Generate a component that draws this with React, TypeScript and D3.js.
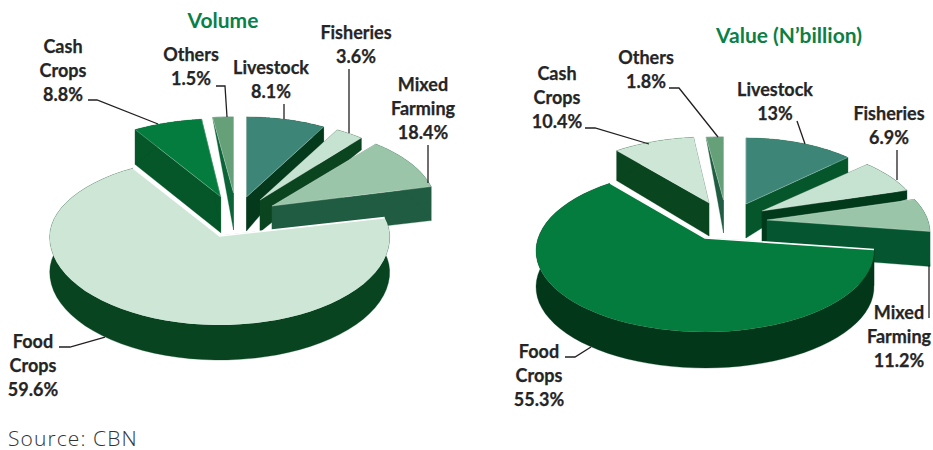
import * as d3 from 'd3';

const sliceNames = ['Livestock', 'Fisheries', 'Mixed Farming', 'Food Crops', 'Cash Crops', 'Others'];

// printed percentages
const volumeLabels = [8.1, 3.6, 18.4, 59.6, 8.8, 1.5];
const valueLabels = [13, 6.9, 11.2, 55.3, 10.4, 1.8];

// shares as actually drawn in the picture: the Mixed Farming and Food Crops wedges
// do not follow their printed numbers, so the arcs are read off separately
const volumeArcs = [8.0, 2.9, 10.2, 70.4, 6.7, 1.8];
const valueArcs = [11.4, 6.6, 6.7, 65.8, 8.0, 1.5];

const volumeTops = ['#3d8576', '#c6e2d0', '#9bc5a8', '#cde6d6', '#037c3e', '#66a079'];
const volumeSides = ['#04391c', '#0a4520', '#1f5c41', '#08441f', '#055629', '#0a6437'];
const valueTops = ['#3d8576', '#c6e2d0', '#9bc5a8', '#037c3e', '#cde6d6', '#66a079'];
const valueSides = ['#05562b', '#003a1b', '#055630', '#03371a', '#09451f', '#1f5c41'];

interface Wedge {
    apex: [number, number];
    rx: number;
    ryTop: number;
    ryBottom: number;
    centerDrop: number;
    apexDrop: number;
    startDrop: number;
    endDrop: number;
}

const volumeWedges: Wedge[] = [
    { apex: [246.5, 197], rx: 160, ryTop: 80, ryBottom: 80, centerDrop: 0, apexDrop: 34, startDrop: 0, endDrop: 15 },
    { apex: [260, 200], rx: 160, ryTop: 80, ryBottom: 80, centerDrop: 0, apexDrop: 32, startDrop: 12, endDrop: 12 },
    { apex: [272, 206], rx: 164, ryTop: 80, ryBottom: 80, centerDrop: 0, apexDrop: 33, startDrop: 34, endDrop: 34 },
    { apex: [219.7, 236], rx: 170, ryTop: 80, ryBottom: 88, centerDrop: 1, apexDrop: 35, startDrop: 35, endDrop: 35 },
    { apex: [220.7, 196.7], rx: 168, ryTop: 78, ryBottom: 78, centerDrop: 0, apexDrop: 36, startDrop: 35, endDrop: 0 },
    { apex: [233.5, 193], rx: 185, ryTop: 76, ryBottom: 76, centerDrop: 0, apexDrop: 37, startDrop: 0, endDrop: 0 },
];

const valueWedges: Wedge[] = [
    { apex: [746, 204], rx: 155, ryTop: 79, ryBottom: 79, centerDrop: 13, apexDrop: 34, startDrop: 0, endDrop: 17 },
    { apex: [762, 211], rx: 160, ryTop: 79, ryBottom: 79, centerDrop: 13, apexDrop: 32, startDrop: 9, endDrop: 9 },
    { apex: [767, 220], rx: 163, ryTop: 79, ryBottom: 79, centerDrop: 13, apexDrop: 34, startDrop: 35, endDrop: 35 },
    { apex: [705, 238], rx: 169, ryTop: 82, ryBottom: 81, centerDrop: 13, apexDrop: 36, startDrop: 36, endDrop: 36 },
    { apex: [709, 203], rx: 164, ryTop: 79, ryBottom: 79, centerDrop: 13, apexDrop: 33, startDrop: 30, endDrop: 0 },
    { apex: [723.5, 200], rx: 185, ryTop: 76, ryBottom: 76, centerDrop: 13, apexDrop: 33, startDrop: 0, endDrop: 0 },
];

// text block centre x and first baseline for each slice label
const volumeLabelAt = [[271, 74], [356, 39], [423, 91], [33, 348], [63, 53], [191, 61]];
const valueLabelAt = [[775, 96], [889, 120], [899, 319], [539, 358], [557, 80], [646, 64]];

const volumeLeaders = [
    [[284, 104], [284, 119]],
    [[349, 69], [349, 133]],
    [[428, 145], [428, 183]],
    [[59, 347], [70, 347], [105, 337]],
    [[88, 100], [97, 100], [158, 124]],
    [[216, 86], [225, 86], [227, 117]],
];
const valueLeaders = [
    [[797, 121], [805, 144]],
    [[897, 150], [897, 180]],
    [[929, 265], [929, 318]],
    [[565, 357], [575, 357], [591, 347]],
    [[585, 128], [595, 128], [649, 144]],
    [[669, 88], [679, 88], [718, 137]],
];

// back wedges first, the big Food Crops wedge last
const paintOrder = [5, 4, 0, 1, 2, 3];
const labelFont = 'Lato, "Open Sans", sans-serif';

const line = d3.line<number[]>();

function wedgePaths(w: Wedge, startAngle: number, endAngle: number) {
    const [ax, ay] = w.apex;
    const cy = ay + w.centerDrop;
    const dropAt = d3.scaleLinear().domain([startAngle, endAngle]).range([w.startDrop, w.endDrop]);
    const rim = (a: number, drop: number) => {
        const c = Math.cos(a);
        return [ax + w.rx * Math.sin(a), cy - (c > 0 ? w.ryTop : w.ryBottom) * c + drop];
    };
    const angles = d3.range(61).map((i) => startAngle + ((endAngle - startAngle) * i) / 60);
    const topRim = angles.map((a) => rim(a, 0));
    const bottomRim = angles.map((a) => rim(a, dropAt(a))).reverse();
    const apexTop = [ax, ay];
    const apexBottom = [ax, ay + w.apexDrop];
    return {
        top: line([apexTop, ...topRim]) + 'Z',
        edges: line([rim(endAngle, 0), apexTop, rim(startAngle, 0)])!,
        walls: [
            line([apexTop, rim(startAngle, 0), rim(startAngle, w.startDrop), apexBottom]) + 'Z',
            line([apexTop, rim(endAngle, 0), rim(endAngle, w.endDrop), apexBottom]) + 'Z',
            line([...topRim, ...bottomRim]) + 'Z',
        ],
    };
}

interface PieProps {
    title: string;
    titleX: number;
    titleY: number;
    labels: number[];
    arcs: number[];
    tops: string[];
    sides: string[];
    wedges: Wedge[];
    labelAt: number[][];
    leaders: number[][][];
}

function Pie3D(props: PieProps) {
    const { title, titleX, titleY, labels, arcs, tops, sides, wedges, labelAt, leaders } = props;
    const pie = d3.pie<number>().sort(null).value((d) => d);
    const slices = pie(arcs);

    return (
        <g>
            {paintOrder.map((i) => {
                const paths = wedgePaths(wedges[i], slices[i].startAngle, slices[i].endAngle);
                const isBig = i === 3;
                return (
                    <g key={i}>
                        {paths.walls.map((d, j) => (
                            <path key={j} d={d} fill={sides[i]} stroke={sides[i]} strokeWidth={0.3} />
                        ))}
                        <path d={paths.top} fill={tops[i]} />
                        <path
                            d={paths.edges}
                            fill="none"
                            stroke="#fff"
                            strokeOpacity={isBig ? 1 : 0.45}
                            strokeWidth={isBig ? 1.6 : 0.6}
                        />
                    </g>
                );
            })}
            {leaders.map((pts, i) => (
                <path key={i} d={line(pts)!} fill="none" stroke="#231f20" strokeWidth={1.3} />
            ))}
            {sliceNames.map((name, i) => {
                const rows = [...name.split(' '), `${labels[i]}%`];
                return (
                    <text
                        key={name}
                        textAnchor="middle"
                        fontFamily={labelFont}
                        fontWeight={700}
                        fontSize={18}
                        fill="#262526"
                        stroke="#262526"
                        strokeWidth={0.25}
                    >
                        {rows.map((row, j) => (
                            <tspan key={j} x={labelAt[i][0]} y={labelAt[i][1] + j * 24.2}>
                                {row}
                            </tspan>
                        ))}
                    </text>
                );
            })}
            <text
                x={titleX}
                y={titleY}
                textAnchor="middle"
                fontFamily={labelFont}
                fontWeight={700}
                fontSize={21}
                fill="#0a8047"
            >
                {title}
            </text>
        </g>
    );
}

export default function App() {
    return (
        <svg
            width={933}
            height={450}
            viewBox="0 0 933 450"
            style={{ position: 'absolute', left: 0, top: 0, background: '#fff' }}
        >
            <Pie3D
                title="Volume"
                titleX={223}
                titleY={28}
                labels={volumeLabels}
                arcs={volumeArcs}
                tops={volumeTops}
                sides={volumeSides}
                wedges={volumeWedges}
                labelAt={volumeLabelAt}
                leaders={volumeLeaders}
            />
            <Pie3D
                title="Value (N’billion)"
                titleX={789}
                titleY={43}
                labels={valueLabels}
                arcs={valueArcs}
                tops={valueTops}
                sides={valueSides}
                wedges={valueWedges}
                labelAt={valueLabelAt}
                leaders={valueLeaders}
            />
            <text
                x={8}
                y={446}
                fontFamily='"Open Sans", sans-serif'
                fontWeight={300}
                fontSize={21}
                letterSpacing={1.1}
                fill="#333"
            >
                Source: CBN
            </text>
        </svg>
    );
}
